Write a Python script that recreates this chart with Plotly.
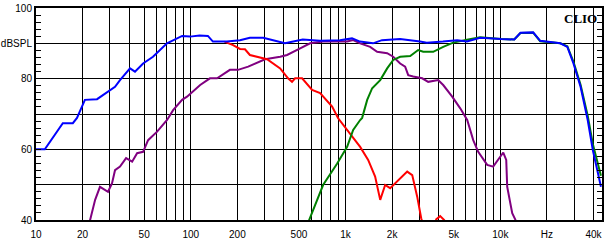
import plotly.graph_objects as go

# ---- data ----
blue_f = [10, 11.4, 14.9, 17.3, 18.4, 20.7, 24.8, 27.1, 30.1, 32.4, 34.9, 40.5, 43.6, 49.2, 57.0, 70.2, 87.9, 98.9, 114,
          129, 139, 171, 208, 241, 294, 406, 529, 683, 920, 1101, 1240, 1505, 1718, 2250,
          3030, 3350, 4260, 5260, 6090, 7400, 10100, 12300, 13500, 16300, 18100, 24400, 27100, 29700, 33000, 36700, 39600, 44700]
blue_db = [60, 60, 67.4, 67.4, 68.9, 74, 74.2, 75.4, 76.8, 77.7, 79.6, 82.9, 82, 84.3, 86.2, 90, 92.1, 91.9, 92.2,
           92.1, 90.5, 90.5, 90.9, 91.6, 91.6, 90, 91.1, 90.7, 90.9, 91.4, 90.5, 90, 90.9, 91.2,
           90.5, 90.2, 90.5, 90.9, 90.5, 91.6, 91.2, 91.1, 93, 93.1, 90.7, 90, 89, 84.3, 77.7, 68.3, 59.8, 49.4]

green_f = [560, 582, 716, 883, 1024, 1120, 1243, 1280, 1380, 1486, 1675, 1858, 2032, 2254, 2617, 2946, 3176, 3684, 4276, 4963,
           6090, 7400, 10100, 12300, 13500, 16300, 18100, 24400, 27100, 29700, 33000, 36700, 39600, 44700]
green_db = [37, 40, 49.9, 56, 60.7, 65.5, 68.3, 68.9, 74, 77.3, 79.6, 82.9, 85.3, 86.2, 86.4, 88.1, 87.6, 87.6, 89, 90.2,
            91.0, 91.7, 91.2, 91.1, 92.9, 93.0, 90.6, 90.0, 89.2, 84.8, 78.3, 69.5, 61.5, 52.5]

red_f = [165, 187.6, 208, 224, 241, 272, 311, 378, 425, 451, 472, 524, 608, 685, 819, 896, 1024, 1243, 1400, 1553, 1675,
         1803, 1942, 2254, 2502, 2697, 2904, 3082, 3300, 3700, 3853, 4087, 4339, 4600]
red_db = [90.5, 89.5, 88.4, 88.3, 86.7, 86.2, 85.5, 82.9, 80.1, 79.1, 80.1, 80.1, 76.8, 75.9, 72.1, 68.8, 65.5, 60.7, 57,
          52.3, 45.7, 49.9, 49, 51.8, 53.7, 52.7, 46.6, 40.5, 36, 37, 40.2, 41.1, 40, 37]

purple_f = [21.5, 22.3, 24.1, 25.9, 27.9, 29.2, 31.0, 32.4, 34.9, 38.2, 41.8, 45.0, 49.2, 53.0, 60.6, 70.3, 76.9, 87.9, 94.6,
            115, 133, 148, 179, 202, 235, 302, 378, 419, 509, 590, 716, 1024, 1120, 1243, 1442, 1600, 1858, 2032, 2254,
            2427, 2541, 2735, 3128, 3420, 3968, 4276, 4887, 5508, 6111, 6683, 7197, 8227, 8994, 9686, 10450, 10920,
            11080, 11940, 12480, 13000]
purple_db = [37, 40, 45.7, 49.4, 48.5, 48, 50.4, 54.1, 55.1, 57.5, 56.5, 58.9, 59.3, 62.6, 65, 68.3, 71.1, 74, 74.9,
             78.2, 80.1, 80.1, 82.5, 82.5, 83.4, 85.5, 86.2, 86.7, 88.6, 90, 90.5, 90.5, 90.9, 90, 89, 87.6, 87.2, 86.2, 84.3,
             83.4, 81, 80.6, 80.1, 79.1, 79.6, 78.2, 74.9, 71.6, 68.3, 62.6, 59.3, 55.6, 55.1, 57, 59.1, 57,
             49.4, 41.9, 40.2, 38]

x_tickvals = [10, 20, 50, 100, 200, 500, 1000, 2000, 5000, 10000, 20000, 40000]
x_ticktext = ["10", "20", "50", "100", "200", "500", "1k", "2k", "5k", "10k", "Hz", "40k"]
x_gridvals = [m * 10 ** e for e in range(1, 5) for m in range(1, 10) if m * 10 ** e <= 40000]
y_tickvals = [40, 50, 60, 70, 80, 90, 100]
y_ticktext = ["40", "", "60", "", "80", "dBSPL", "100"]
y_range = [40, 100]

fig = go.Figure()
for f, d, c in [(purple_f, purple_db, "#800080"), (red_f, red_db, "#ff0000"),
                (green_f, green_db, "#008000"), (blue_f, blue_db, "#0000ff")]:
    fig.add_trace(go.Scatter(x=f, y=d, mode="lines", line=dict(color=c, width=2), showlegend=False,
                             hoverinfo="skip"))

font = dict(family="Liberation Sans, Arial, sans-serif", size=10, color="#000000")
minor_ticks = dict(tickmode="linear", tick0=40, dtick=2, ticks="inside", ticklen=5, tickcolor="black",
                   tickwidth=1, showgrid=False)
fig.update_layout(
    width=608, height=248,
    margin=dict(l=36, r=6, t=8, b=28, autoexpand=False),
    paper_bgcolor="white", plot_bgcolor="white",
    font=font,
    xaxis=dict(type="log", range=[1, 4.657], tickmode="array", tickvals=x_tickvals, ticktext=x_ticktext,
               showgrid=True, gridcolor="black", gridwidth=1, ticks="",
               minor=dict(tickmode="array", tickvals=x_gridvals, showgrid=True, gridcolor="black", gridwidth=1, ticks=""),
               showline=True, linecolor="black", linewidth=2, mirror=True, zeroline=False, automargin=False,
               tickfont=font, ticklabelstandoff=4),
    yaxis=dict(range=y_range, tickmode="array", tickvals=y_tickvals, ticktext=y_ticktext,
               showgrid=True, gridcolor="black", gridwidth=1, ticks="inside", ticklen=5, tickcolor="black",
               minor=minor_ticks, automargin=False,
               showline=True, linecolor="black", linewidth=2, mirror=True, zeroline=False,
               tickfont=font, ticklabelstandoff=0),
    yaxis2=dict(range=y_range, overlaying="y", side="right", showticklabels=False, showgrid=False,
                tickmode="array", tickvals=y_tickvals, ticks="inside", ticklen=5, tickcolor="black",
                minor=minor_ticks, automargin=False, zeroline=False, showline=False),
    annotations=[dict(text="<b>CLIO</b>", xref="paper", yref="paper", x=1, y=1, xanchor="right", yanchor="top",
                      showarrow=False, xshift=-3, yshift=-1,
                      font=dict(family="Liberation Serif, Times New Roman, serif", size=13, color="black"))],
)
# invisible trace to activate the right-hand tick axis
fig.add_trace(go.Scatter(x=[blue_f[0]], y=[blue_db[0]], yaxis="y2", mode="lines", showlegend=False,
                         line=dict(color="rgba(0,0,0,0)"), hoverinfo="skip"))
fig.write_html("out.html")
